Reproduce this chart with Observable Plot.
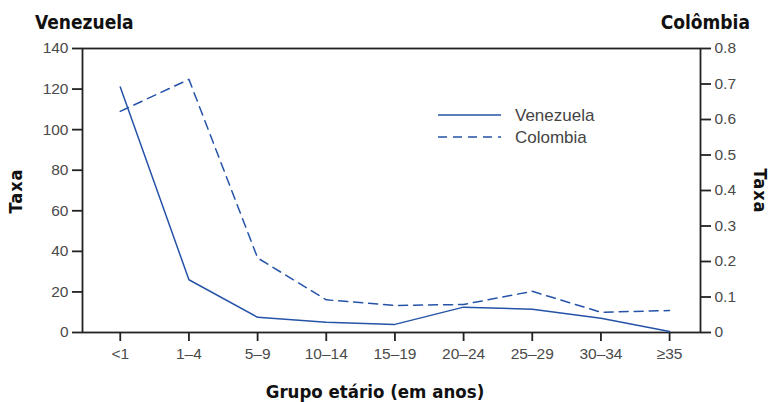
<!DOCTYPE html>
<html>
<head>
<meta charset="utf-8">
<script src="https://cdn.jsdelivr.net/npm/d3@7"></script>
<script src="https://cdn.jsdelivr.net/npm/@observablehq/plot@0.6"></script>
<style>
  html, body { margin: 0; padding: 0; background: #fff; }
  #chart svg { display: block; }
</style>
</head>
<body>
<div id="chart"></div>
<script>
const ageGroups = ["<1", "1–4", "5–9", "10–14", "15–19", "20–24", "25–29", "30–34", "≥35"];
const venezuela = [121, 26, 7.5, 5, 4, 12.5, 11.5, 7, 0.5];
const colombia = [0.623, 0.713, 0.21, 0.092, 0.076, 0.079, 0.116, 0.057, 0.062];
const leftTicks = [0, 20, 40, 60, 80, 100, 120, 140];
const rightTicks = [0, 0.1, 0.2, 0.3, 0.4, 0.5, 0.6, 0.7, 0.8];
const leftMax = 140, rightMax = 0.8;
const k = leftMax / rightMax;

const rows = [];
ageGroups.forEach((g, i) => {
  rows.push({i, group: g, series: "Venezuela", v: venezuela[i]});
  rows.push({i, group: g, series: "Colombia", v: colombia[i] * k});
});

const blue = "#2553a8";
const tickGray = "#4a4a4a";
const tickFont = "'Liberation Sans', Arial, sans-serif";

const plot = Plot.plot({
  width: 771,
  height: 402,
  marginLeft: 82,
  marginRight: 71,
  marginTop: 48,
  marginBottom: 70,
  style: {fontFamily: tickFont, fontSize: "15px", color: "#222", background: "#fff"},
  x: {type: "linear", domain: [-0.55, 8.45]},
  y: {domain: [0, leftMax]},
  marks: [
    Plot.frame({stroke: "#222", strokeWidth: 1.8}),
    Plot.axisY({anchor: "left", ticks: leftTicks, tickSize: 10, tickPadding: 4, label: null, strokeWidth: 1.8}),
    Plot.axisY({anchor: "right", ticks: rightTicks.map(v => v * k), tickSize: 10, tickPadding: 4,
      tickFormat: d => String(Math.round(d / k * 10) / 10), label: null, strokeWidth: 1.8}),
    Plot.axisX({ticks: d3.range(ageGroups.length), tickFormat: d => ageGroups[d], tickSize: 9, tickPadding: 6, label: null, strokeWidth: 1.8}),
    Plot.lineY(rows.filter(d => d.series === "Venezuela"), {x: "i", y: "v", stroke: blue, strokeWidth: 1.5}),
    Plot.lineY(rows.filter(d => d.series === "Colombia"), {x: "i", y: "v", stroke: blue, strokeWidth: 1.5, strokeDasharray: "9,6"})
  ]
});

document.getElementById("chart").appendChild(plot);
const svg = d3.select(plot);
// all texts produced by Plot at this point are the tick labels
svg.selectAll("text")
  .style("fill", tickGray)
  .style("font-size", "15.5px")
  .style("font-family", tickFont);

const bold = "'DejaVu Sans Condensed', 'DejaVu Sans', sans-serif";
function addText(txt, x, y, opts = {}) {
  const t = svg.append("text").attr("x", x).attr("y", y).text(txt)
    .style("font-family", opts.family || bold)
    .style("font-weight", opts.weight || "bold")
    .style("font-size", opts.size || "17px")
    .style("fill", opts.fill || "#111")
    .attr("text-anchor", opts.anchor || "start");
  if (opts.rotate) t.attr("transform", `rotate(${opts.rotate},${x},${y})`);
  return t;
}
addText("Venezuela", 35, 29, {size: "19px"});
addText("Colômbia", 750, 29, {size: "19px", anchor: "end"});
addText("Grupo etário (em anos)", 375, 398, {size: "18.5px", anchor: "middle"});
addText("Taxa", 16, 191, {size: "18px", anchor: "middle", rotate: -90}).attr("dy", "0.35em").style("letter-spacing", "1px");
addText("Taxa", 760, 191, {size: "18px", anchor: "middle", rotate: 90}).attr("dy", "0.35em").style("letter-spacing", "1px");

// legend
const legend = [{name: "Venezuela", dash: null}, {name: "Colombia", dash: "9,6"}];
legend.forEach((d, j) => {
  const y = 115 + j * 22;
  const l = svg.append("line").attr("x1", 438).attr("x2", 501).attr("y1", y).attr("y2", y)
    .attr("stroke", blue).attr("stroke-width", 1.5);
  if (d.dash) l.attr("stroke-dasharray", d.dash);
  addText(d.name, 515, y, {family: "'Liberation Sans', Arial, sans-serif", weight: "normal", size: "17px", fill: "#444"}).attr("dy", "0.35em");
});
</script>
</body>
</html>
